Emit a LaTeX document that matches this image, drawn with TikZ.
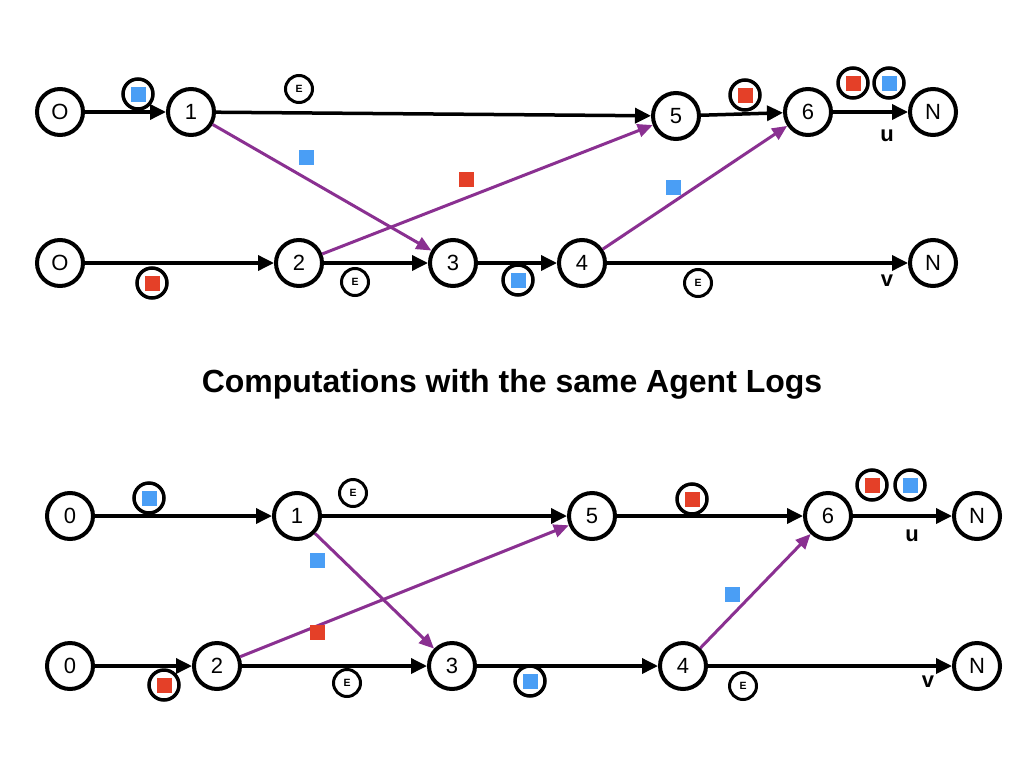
\documentclass[tikz,border=0pt]{standalone}
\usepackage{fontspec}
\setmainfont{Liberation Sans}
\usetikzlibrary{arrows.meta}
\definecolor{sqblue}{RGB}{74,158,245}
\definecolor{sqred}{RGB}{228,64,40}
\definecolor{arpurple}{RGB}{138,48,145}
\newcommand{\BlueSq}{\textcolor{sqblue}{\rule{15pt}{15pt}}}
\newcommand{\RedSq}{\textcolor{sqred}{\rule{15pt}{15pt}}}
\tikzset{
  nd/.style={circle,draw=black,line width=4pt,minimum size=46pt,inner sep=0pt,
    font=\fontsize{22}{24}\selectfont},
  mk/.style={circle,draw=black,line width=3.5pt,minimum size=30pt,inner sep=0pt},
  ek/.style={circle,draw=black,line width=3pt,minimum size=27pt,inner sep=0pt,
    font=\fontsize{10.5}{12}\selectfont\bfseries},
  sqb/.style={fill=sqblue,minimum size=15pt,inner sep=0pt},
  sqr/.style={fill=sqred,minimum size=15pt,inner sep=0pt},
  ar/.style={line width=3.5pt,draw=black,-{Triangle[length=16pt,width=15pt]}},
  pa/.style={line width=3pt,draw=arpurple,-{Triangle[length=15pt,width=13pt]}},
  lt/.style={font=\fontsize{22}{24}\selectfont\bfseries},
  ttl/.style={font=\fontsize{32}{36}\selectfont\bfseries}
}
\begin{document}
\begin{tikzpicture}[x=1pt,y=-1pt]
\useasboundingbox[fill=white] (0,0) rectangle (1024,768);
% ---------- top diagram ----------
\node[nd] (tO1) at (60,112) {O};
\node[nd] (t1) at (191,112) {1};
\node[nd] (t5) at (676,116) {5};
\node[nd] (t6) at (808,112) {6};
\node[nd] (tN1) at (933,112) {N};
\node[nd] (tO2) at (60,263) {O};
\node[nd] (t2) at (299,263) {2};
\node[nd] (t3) at (453,263) {3};
\node[nd] (t4) at (582,263) {4};
\node[nd] (tN2) at (933,263) {N};
\draw[pa] (t1) -- (t3);
\draw[pa] (t2) -- (t5);
\draw[pa] (t4) -- (t6);
\draw[ar] (tO1) -- (t1);
\draw[ar] (t1) -- (t5);
\draw[ar] (t5) -- (t6);
\draw[ar] (t6) -- (tN1);
\draw[ar] (tO2) -- (t2);
\draw[ar] (t2) -- (t3);
\draw[ar] (t3) -- (t4);
\draw[ar] (t4) -- (tN2);
\node[mk] (tm1) at (138,94) {\BlueSq};
\node[ek] (te1) at (299,89) {E};
\node[mk] (tm2) at (745,95) {\RedSq};
\node[mk] (tm3) at (853,83) {\RedSq};
\node[mk] (tm4) at (889,83) {\BlueSq};
\node[lt] (tu) at (887,136) {u};
\node[sqb] (ts1) at (306,157) {};
\node[sqr] (ts2) at (466,179) {};
\node[sqb] (ts3) at (673,187) {};
\node[mk] (tm5) at (152,283) {\RedSq};
\node[ek] (te2) at (355,282) {E};
\node[mk] (tm6) at (518,280) {\BlueSq};
\node[ek] (te3) at (698,283) {E};
\node[lt] (tv) at (887,281) {v};
% ---------- title ----------
\node[ttl] (title) at (512,384) {Computations with the same Agent Logs};
% ---------- bottom diagram ----------
\node[nd] (b01) at (70,516) {0};
\node[nd] (b1) at (297,516) {1};
\node[nd] (b5) at (592,516) {5};
\node[nd] (b6) at (828,516) {6};
\node[nd] (bN1) at (977,516) {N};
\node[nd] (b02) at (70,666) {0};
\node[nd] (b2) at (217,666) {2};
\node[nd] (b3) at (452,666) {3};
\node[nd] (b4) at (683,666) {4};
\node[nd] (bN2) at (977,666) {N};
\draw[pa] (b1) -- (b3);
\draw[pa] (b2) -- (b5);
\draw[pa] (b4) -- (b6);
\draw[ar] (b01) -- (b1);
\draw[ar] (b1) -- (b5);
\draw[ar] (b5) -- (b6);
\draw[ar] (b6) -- (bN1);
\draw[ar] (b02) -- (b2);
\draw[ar] (b2) -- (b3);
\draw[ar] (b3) -- (b4);
\draw[ar] (b4) -- (bN2);
\node[mk] (bm1) at (149,498) {\BlueSq};
\node[ek] (be1) at (353,493) {E};
\node[mk] (bm2) at (692,499) {\RedSq};
\node[mk] (bm3) at (872,485) {\RedSq};
\node[mk] (bm4) at (910,485) {\BlueSq};
\node[lt] (bu) at (912,536) {u};
\node[sqb] (bs1) at (317,560) {};
\node[sqr] (bs2) at (317,632) {};
\node[sqb] (bs3) at (732,594) {};
\node[mk] (bm5) at (164,685) {\RedSq};
\node[ek] (be2) at (347,683) {E};
\node[mk] (bm6) at (530,681) {\BlueSq};
\node[ek] (be3) at (743,686) {E};
\node[lt] (bv) at (928,682) {v};
\end{tikzpicture}
\end{document}
